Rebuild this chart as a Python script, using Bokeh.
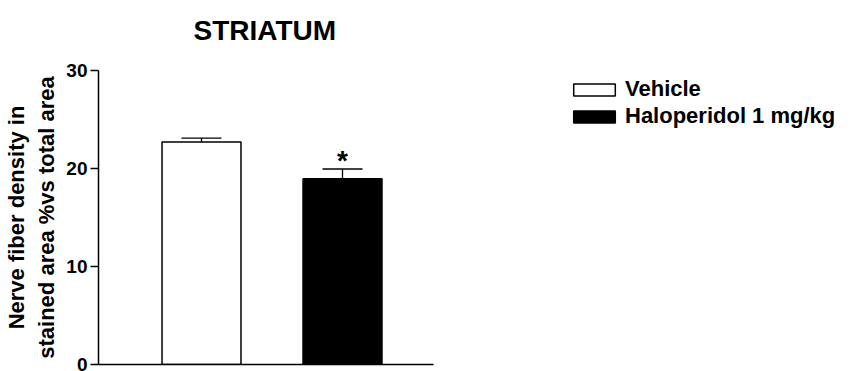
from bokeh.plotting import figure
from bokeh.models import (ColumnDataSource, Range1d, FixedTicker, Whisker, TeeHead,
                          Legend, LegendItem, LinearAxis)
from bokeh.core.properties import value
from bokeh.embed import file_html
from bokeh.resources import INLINE

# ---- data ----
groups = ["Vehicle", "Haloperidol 1 mg/kg"]
means = [22.7, 18.95]
sems = [0.4, 1.0]
significance = ["", "*"]
fills = ["white", "black"]
y_ticks = [0, 10, 20, 30]
title_text = "STRIATUM"
y_label = "Nerve fiber density in\nstained area %vs total area"

FONT = "Liberation Sans"

xpos = list(range(1, len(groups) + 1))
upper = [m + s for m, s in zip(means, sems)]
src = ColumnDataSource(dict(x=xpos, group=groups, mean=means, upper=upper,
                            fill=fills, sig=significance))

# x-range: the frame runs to the right edge (legend lives there);
# the x axis line is bounded to the bar region
x_start, x_axis_end, x_end = 0.2695, 2.6454, 5.624
p = figure(width=853, height=371, output_backend="svg", toolbar_location=None,
           x_range=Range1d(x_start, x_end), y_range=Range1d(0, 30),
           min_border_left=98, min_border_right=0, min_border_top=70,
           min_border_bottom=7, title=title_text)
p.outline_line_color = None
p.xgrid.visible = False
p.ygrid.visible = False
p.background_fill_color = "white"
p.border_fill_color = "white"

# x axis (below): line only, bounded to the bar region
xa = p.below[0]
xa.ticker = FixedTicker(ticks=[])
xa.minor_tick_line_color = None
xa.major_tick_out = 0
xa.major_tick_in = 0
xa.major_label_standoff = 0
xa.axis_line_width = 1.5
xa.axis_line_color = "black"
xa.bounds = (x_start, x_axis_end)

# y axis
ya = p.left[0]
ya.ticker = FixedTicker(ticks=y_ticks)
ya.minor_tick_line_color = None
ya.major_tick_out = 8
ya.major_tick_in = 0
ya.major_label_standoff = 3
ya.axis_line_width = 1.5
ya.major_tick_line_width = 1.5
ya.axis_line_color = "black"
ya.major_tick_line_color = "black"
ya.major_label_text_font = FONT
ya.major_label_text_font_style = "bold"
ya.major_label_text_font_size = "19px"
ya.major_label_text_color = "black"
ya.axis_label = y_label
ya.axis_label_text_font = FONT
ya.axis_label_text_font_style = "bold"
ya.axis_label_text_font_size = "22px"
ya.axis_label_text_color = "black"
ya.axis_label_standoff = 4

p.title.text_font = FONT
p.title.text_font_style = "bold"
p.title.text_font_size = "28px"
p.title.text_color = "black"
p.title.align = "left"
p.title.vertical_align = "bottom"
p.title.offset = 95
p.title.standoff = 2

# invisible spacer axis above the frame: lifts the title
spacer = LinearAxis(ticker=FixedTicker(ticks=[]), major_tick_out=0,
                    major_tick_in=0, minor_tick_out=0, minor_tick_in=0,
                    major_tick_line_color=None, minor_tick_line_color=None,
                    axis_line_color=None, major_label_standoff=0,
                    major_label_text_color=None,
                    axis_label=".", axis_label_text_color=None,
                    axis_label_text_font_size="18px", axis_label_standoff=8)
p.add_layout(spacer, "above")

bars = p.vbar(x="x", top="mean", bottom=0, width=0.56, source=src,
              fill_color="fill", line_color="black", line_width=1.5)

whisk = Whisker(source=src, base="x", upper="upper", lower="mean",
                dimension="height", line_color="black", line_width=1.3,
                upper_head=TeeHead(size=40, line_color="black", line_width=1.3),
                lower_head=None)
p.add_layout(whisk)

p.text(x="x", y="upper", text="sig", source=src, text_align="center",
       text_baseline="alphabetic", text_font=value(FONT), text_font_style="bold",
       text_font_size="28px", y_offset=-8, text_color="black")

# legend (inside the wide frame, right of the bars)
items = [LegendItem(label=g, renderers=[bars], index=i) for i, g in enumerate(groups)]
legend = Legend(items=items, location=(470, 235), orientation="vertical",
                glyph_width=52, glyph_height=15, label_standoff=5, spacing=1,
                padding=0, margin=0, border_line_color=None,
                background_fill_alpha=0, label_text_font=FONT,
                label_text_font_style="bold", label_text_font_size="22px",
                label_text_color="black")
p.add_layout(legend, "center")

open("out.html", "w").write(file_html(p, INLINE))
